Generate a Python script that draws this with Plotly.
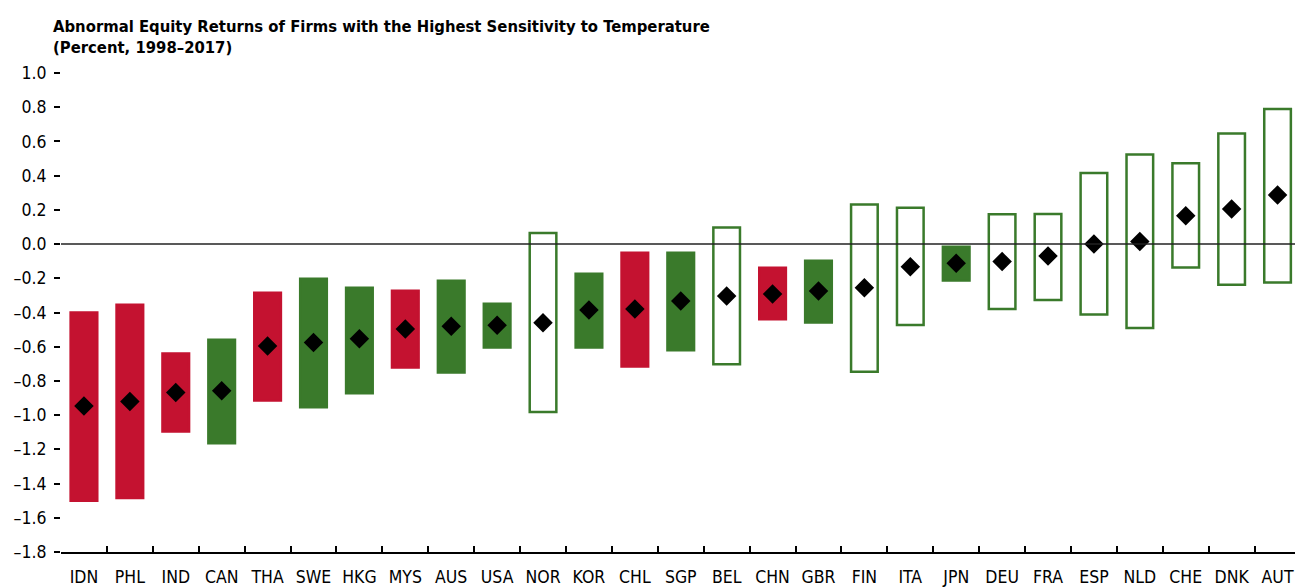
import plotly.graph_objects as go

# data (percent)
countries = ["IDN", "PHL", "IND", "CAN", "THA", "SWE", "HKG", "MYS", "AUS", "USA",
             "NOR", "KOR", "CHL", "SGP", "BEL", "CHN", "GBR", "FIN", "ITA", "JPN",
             "DEU", "FRA", "ESP", "NLD", "CHE", "DNK", "AUT"]
low = [-1.50, -1.485, -1.095, -1.165, -0.915, -0.954, -0.872, -0.722, -0.750, -0.604,
       -0.981, -0.604, -0.715, -0.621, -0.703, -0.440, -0.458, -0.746, -0.473, -0.213,
       -0.380, -0.327, -0.411, -0.490, -0.137, -0.238, -0.225]
high = [-0.400, -0.355, -0.640, -0.560, -0.285, -0.203, -0.256, -0.273, -0.215, -0.349,
        0.064, -0.174, -0.051, -0.051, 0.097, -0.139, -0.098, 0.231, 0.213, -0.016,
        0.175, 0.176, 0.415, 0.523, 0.472, 0.647, 0.789]
point = [-0.946, -0.920, -0.868, -0.857, -0.596, -0.575, -0.553, -0.497, -0.481, -0.475,
         -0.460, -0.386, -0.380, -0.333, -0.304, -0.292, -0.275, -0.256, -0.133, -0.112,
         -0.102, -0.069, 0.000, 0.015, 0.166, 0.205, 0.287]
kind = ["red", "red", "red", "green", "red", "green", "green", "red", "green", "green",
        "hollow", "green", "red", "green", "hollow", "red", "green", "hollow", "hollow", "green",
        "hollow", "hollow", "hollow", "hollow", "hollow", "hollow", "hollow"]

y_ticks = [1.0, 0.8, 0.6, 0.4, 0.2, 0.0, -0.2, -0.4, -0.6, -0.8, -1.0, -1.2, -1.4, -1.6, -1.8]
y_labels = ["1.0", "0.8", "0.6", "0.4", "0.2", "0.0", "–0.2", "–0.4", "–0.6", "–0.8",
            "–1.0", "–1.2", "–1.4", "–1.6", "–1.8"]

RED = "#c41230"
GREEN = "#3a7a2b"
FONT = "DejaVu Sans Condensed, DejaVu Sans, sans-serif"

fill = {"red": RED, "green": GREEN, "hollow": "white"}
edge = {"red": RED, "green": GREEN, "hollow": GREEN}

fig = go.Figure()

fig.add_trace(go.Bar(
    x=countries,
    y=[h - l for h, l in zip(high, low)],
    base=low,
    width=0.58,
    marker=dict(
        color=[fill[k] for k in kind],
        line=dict(color=[edge[k] for k in kind], width=2.5),
    ),
    showlegend=False,
    hoverinfo="skip",
))

fig.add_trace(go.Scatter(
    x=countries, y=point,
    mode="markers",
    marker=dict(symbol="diamond", size=15, color="black"),
    showlegend=False,
))

# zero line sits on top of the boxes
fig.add_shape(type="line", xref="paper", yref="y", x0=0, x1=1, y0=0, y1=0,
              line=dict(color="#222222", width=1.5), layer="above")

# page has an 8px body margin, so everything is placed 8px up/left
fig.update_layout(
    width=1303, height=587,
    margin=dict(l=53, r=16, t=65, b=43),
    paper_bgcolor="white",
    plot_bgcolor="white",
    font=dict(family=FONT, size=17, color="black"),
    title=dict(
        text="<b>Abnormal Equity Returns of Firms with the Highest Sensitivity to Temperature<br>(Percent, 1998–2017)</b>",
        xref="container", yref="container",
        x=45 / 1303, xanchor="left",
        y=1 - 23.5 / 587, yanchor="top",
        font=dict(family=FONT, size=16.5, color="black"),
    ),
    xaxis=dict(
        type="category",
        range=[-0.5, 26.38],
        automargin=False,
        showline=True, linecolor="black", linewidth=1.5,
        ticks="inside", tickson="boundaries", ticklen=6, tickcolor="black", tickwidth=1.5,
        showgrid=False, zeroline=False,
        ticklabelstandoff=8,
        tickfont=dict(size=17.5),
    ),
    yaxis=dict(
        range=[-1.8, 1.0],
        automargin=False,
        tickvals=y_ticks, ticktext=y_labels,
        ticks="outside", ticklen=6, tickcolor="black", tickwidth=1.5,
        showline=False, showgrid=False, zeroline=False,
        ticklabelstandoff=4,
        tickfont=dict(size=17.5),
    ),
)

fig.write_html("out.html")
